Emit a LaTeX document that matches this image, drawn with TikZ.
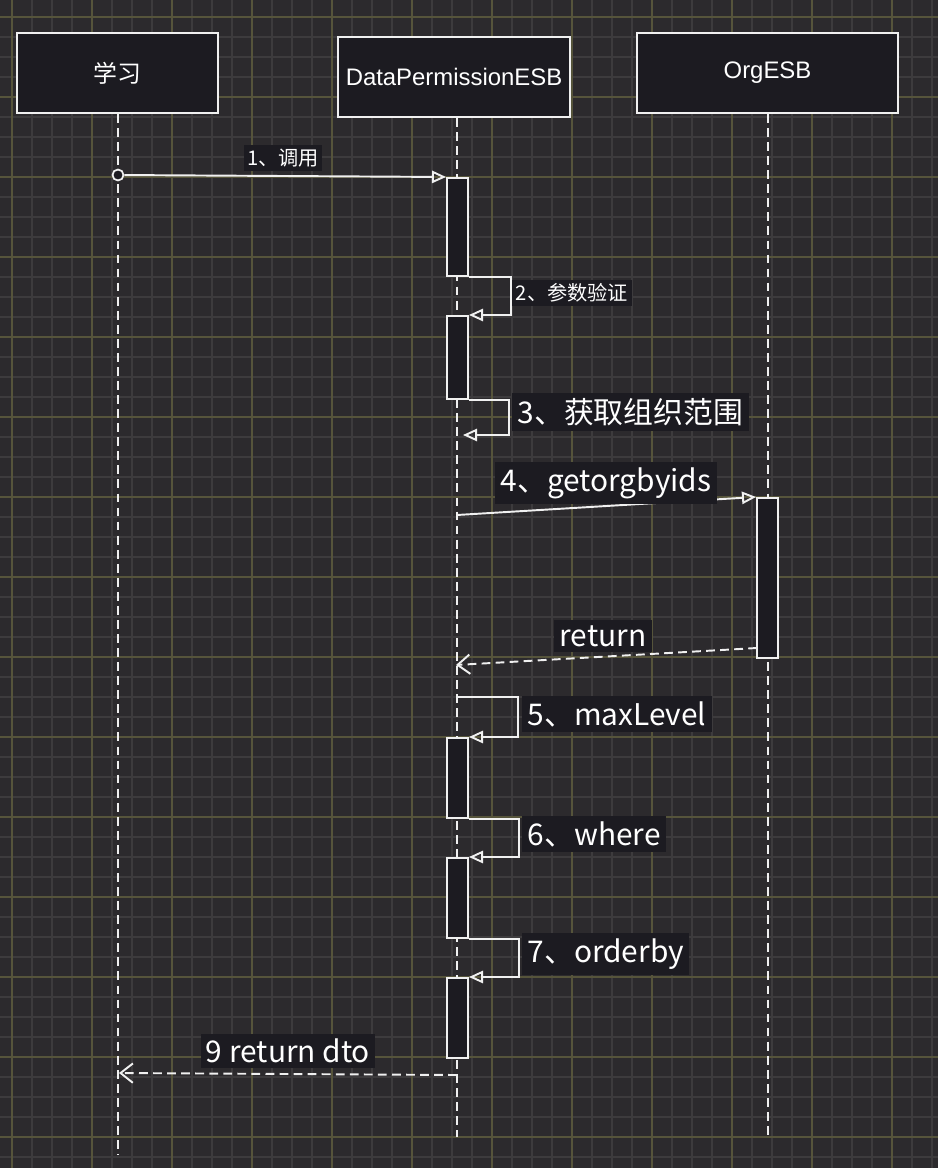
\documentclass[tikz,border=0pt]{standalone}
\usepackage{fontspec}
\setmainfont{Liberation Sans}
\newfontfamily\cjk{Noto Sans CJK SC}
\usetikzlibrary{arrows.meta}
\definecolor{bgdark}{HTML}{2C2A2D}
\definecolor{gridminor}{HTML}{3D3B3D}
\definecolor{gridmajor}{HTML}{56543B}
\definecolor{boxfill}{HTML}{1C1B21}
\definecolor{inkwhite}{HTML}{F0F0F0}

\tikzset{
  actorbox/.style={draw=inkwhite, fill=boxfill, line width=1.2pt, minimum height=1.6cm,
    text=white, font=\fontsize{13.6}{15}\selectfont},
  activebar/.style={draw=inkwhite, fill=boxfill, line width=1.1pt, minimum width=0.42cm,
    inner sep=0pt, anchor=north},
  lifeline/.style={draw=inkwhite, line width=1pt, dash pattern=on 5pt off 3pt},
  callarrow/.style={draw=inkwhite, line width=1.1pt, -{Triangle[open, length=8pt, width=7pt]}},
  backarrow/.style={draw=inkwhite, line width=1.1pt, dash pattern=on 5pt off 3pt,
    -{Straight Barb[length=7pt, width=11pt]}},
  smalllabel/.style={fill=boxfill, text=white, inner sep=2pt, font=\cjk\fontsize{11.5}{13}\selectfont},
  biglabel/.style={fill=boxfill, text=white, inner sep=3pt, font=\cjk\fontsize{17}{19}\selectfont},
  startdot/.style={circle, draw=inkwhite, fill=boxfill, line width=1pt, minimum size=0.22cm, inner sep=0pt}
}

\begin{document}
\begin{tikzpicture}[x=0.02cm, y=-0.02cm]
  \useasboundingbox (0,0) rectangle (938,1168);
  \fill[bgdark] (0,0) rectangle (938,1168);
  \foreach \gx in {12,32,...,932} \draw[gridminor, line width=0.6pt] (\gx,0) -- (\gx,1168);
  \foreach \gy in {17,37,...,1167} \draw[gridminor, line width=0.6pt] (0,\gy) -- (938,\gy);
  \foreach \gx in {12,92,...,932} \draw[gridmajor, line width=0.6pt] (\gx,0) -- (\gx,1168);
  \foreach \gy in {17,97,...,1167} \draw[gridmajor, line width=0.6pt] (0,\gy) -- (938,\gy);

  % participants
  \node[actorbox, minimum width=4.02cm] (study) at (117.5,73) {\cjk 学习};
  \node[actorbox, minimum width=4.64cm] (dpesb) at (454,77) {DataPermissionESB};
  \node[actorbox, minimum width=5.22cm] (orgesb) at (767.5,73) {OrgESB};

  \coordinate (studyend) at (118,1155);
  \coordinate (dpesbend) at (457,1137);
  \coordinate (orgesbend) at (768,1137);
  \draw[lifeline] (study.south -| studyend) -- (studyend);
  \draw[lifeline] (dpesb.south -| dpesbend) -- (dpesbend);
  \draw[lifeline] (orgesb.south -| orgesbend) -- (orgesbend);

  % activations
  \node[activebar, minimum height=1.96cm] (dpa1) at (457.5,177) {};
  \node[activebar, minimum height=1.66cm] (dpa2) at (457.5,315) {};
  \node[activebar, minimum height=3.2cm] (orgact) at (767.5,497) {};
  \node[activebar, minimum height=1.6cm] (dpa3) at (457.5,737) {};
  \node[activebar, minimum height=1.6cm] (dpa4) at (457.5,857) {};
  \node[activebar, minimum height=1.6cm] (dpa5) at (457.5,977) {};

  % 1
  \node[startdot] (calldot) at (118,175) {};
  \draw[callarrow] (calldot) -- (dpa1.north west);
  \node[smalllabel] (lbcall) at (283,158) {1、调用};

  % 2
  \draw[callarrow] (dpa1.south east) -- ++(42,0) |- (dpa2.north east);
  \node[smalllabel, anchor=west] (lbcheck) at (512,293) {2、参数验证};

  % 3
  \coordinate (scopeend) at (463,435);
  \draw[callarrow] (dpa2.south east) -- ++(40,0) |- (scopeend);
  \node[biglabel, anchor=west] (lbscope) at (512,412) {3、获取组织范围};

  % 4
  \coordinate (orgcall) at (457,515);
  \draw[callarrow] (orgcall) -- (orgact.north west);
  \node[biglabel] (lborg) at (606,483) {4、getorgbyids};

  \coordinate (orgret) at (757,648);
  \coordinate (orgretend) at (456,665);
  \draw[backarrow] (orgret) -- (orgretend);
  \node[biglabel] (lbret) at (603,636) {return};

  % 5-7
  \coordinate (levelstart) at (457,697);
  \draw[callarrow] (levelstart) -- (518,697) |- (dpa3.north east);
  \node[biglabel, anchor=west] (lblevel) at (522,714) {5、maxLevel};

  \draw[callarrow] (dpa3.south east) -- ++(50,0) |- (dpa4.north east);
  \node[biglabel, anchor=west] (lbwhere) at (522,834) {6、where};

  \draw[callarrow] (dpa4.south east) -- ++(50,0) |- (dpa5.north east);
  \node[biglabel, anchor=west] (lborder) at (522,954) {7、orderby};

  % 9
  \coordinate (dtostart) at (457,1075);
  \coordinate (dtoend) at (119,1073);
  \draw[backarrow] (dtostart) -- (dtoend);
  \node[biglabel] (lbdto) at (288,1051) {9 return dto};
\end{tikzpicture}
\end{document}
